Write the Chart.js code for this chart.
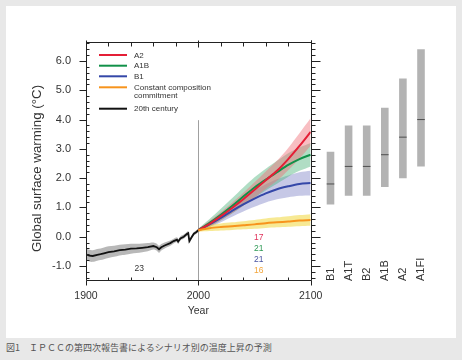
<!DOCTYPE html>
<html><head><meta charset="utf-8">
<script src="https://cdn.jsdelivr.net/npm/chart.js@4.4.1/dist/chart.umd.min.js"></script>
<style>
html,body{margin:0;padding:0;background:#e8e8e8;}
#wrap{position:relative;width:462px;height:360px;background:#e8e8e8;overflow:hidden;}
#panel{position:absolute;left:6px;top:6px;width:450px;height:332px;background:#fff;}
#c1{position:absolute;left:0;top:0;}
#c2{position:absolute;left:310px;top:0;}
#cap{position:absolute;left:6px;top:341px;font-size:9px;line-height:14px;font-family:"Noto Sans CJK JP",sans-serif;color:#555;white-space:nowrap;}
</style></head>
<body>
<div id="wrap">
  <div id="panel"></div>
  <canvas id="c1" width="345" height="338"></canvas>
  <canvas id="c2" width="146" height="338"></canvas>
  <div id="cap">図1　ＩＰＣＣの第四次報告書によるシナリオ別の温度上昇の予測</div>
</div>
<script>
// ---- data ----
const years20  = [1900,1903,1906,1910,1913,1916,1920,1925,1930,1935,1940,1945,1950,1955,1960,1963,1965,1967,1970,1975,1978,1981,1982,1984,1987,1990,1991,1992,1994,1996,1998,2000];
const temp20   = [-0.60,-0.65,-0.66,-0.62,-0.60,-0.57,-0.53,-0.50,-0.46,-0.44,-0.41,-0.40,-0.38,-0.36,-0.32,-0.36,-0.43,-0.36,-0.30,-0.22,-0.15,-0.10,-0.17,-0.06,0.00,0.10,0.12,-0.15,-0.02,0.10,0.15,0.22];
const spread20 = [0.20,0.20,0.20,0.20,0.20,0.20,0.20,0.19,0.18,0.18,0.17,0.16,0.15,0.14,0.12,0.12,0.12,0.11,0.10,0.09,0.08,0.08,0.08,0.07,0.07,0.07,0.07,0.07,0.06,0.06,0.06,0.06];

const yearsProj = [2000,2010,2020,2030,2040,2050,2060,2070,2080,2090,2100];
const a2Mean    = [0.22,0.44,0.70,0.98,1.28,1.60,1.93,2.25,2.65,3.10,3.58];
const a2Spread  = [0.05,0.10,0.14,0.18,0.22,0.26,0.30,0.34,0.38,0.43,0.47];
const a1bMean   = [0.22,0.47,0.75,1.05,1.37,1.68,1.95,2.20,2.45,2.65,2.80];
const a1bSpread = [0.05,0.13,0.20,0.26,0.31,0.35,0.37,0.39,0.40,0.40,0.40];
const b1Mean    = [0.22,0.42,0.64,0.88,1.10,1.30,1.48,1.62,1.72,1.80,1.83];
const b1Spread  = [0.05,0.10,0.15,0.20,0.24,0.28,0.31,0.34,0.37,0.40,0.42];
const ccMean    = [0.22,0.29,0.33,0.36,0.39,0.42,0.46,0.49,0.52,0.55,0.57];
const ccSpread  = [0.05,0.10,0.12,0.13,0.14,0.15,0.16,0.17,0.18,0.19,0.20];

const scenarios = ['B1','A1T','B2','A1B','A2','A1FI'];
const rangeLow  = [1.1,1.4,1.4,1.7,2.0,2.4];
const rangeHigh = [2.9,3.8,3.8,4.4,5.4,6.4];
const bestEst   = [1.8,2.4,2.4,2.8,3.4,4.0];

const yTicks = [-1,0,1,2,3,4,5,6];
const xTicks = [1900,2000,2100];
const yMin = -1.48, yMax = 6.65;

const noteYears  = [1947.4, 2053.7, 2053.7, 2053.7, 2053.7];
const noteValues = [-1.09, -0.02, -0.41, -0.80, -1.16];
const noteTexts  = ['23','17','21','21','16'];

// ---- styles ----
const C = {
  red:'#e41f36', green:'#119149', blue:'#3447a8', orange:'#f7941d', black:'#111111',
  redBand:'rgba(240,110,120,0.45)', greenBand:'rgba(80,180,125,0.45)',
  blueBand:'rgba(120,125,195,0.42)', yellowBand:'rgba(240,215,60,0.55)', grayBand:'rgba(140,140,140,0.62)'
};
const FONT = '"Liberation Sans", Arial, sans-serif';

const pts = (xs, ys) => xs.map((x,i)=>({x, y: ys[i]}));
const plus = (m, s) => m.map((v,i)=>v+s[i]);
const minus = (m, s) => m.map((v,i)=>v-s[i]);

const ds = [];
function band(xs, mean, spread, color){
  ds.push({data: pts(xs, plus(mean,spread)), borderWidth:0, pointRadius:0, fill:false, tension:0.3});
  ds.push({data: pts(xs, minus(mean,spread)), borderWidth:0, pointRadius:0, fill:'-1', backgroundColor:color, tension:0.3});
}
function line(xs, ys, color, tension, w){
  ds.push({data: pts(xs, ys), borderColor:color, borderWidth:w, pointRadius:0, fill:false, tension});
}
band(years20, temp20, spread20, C.grayBand);
line(years20, temp20, C.black, 0, 1.8);
band(yearsProj, b1Mean, b1Spread, C.blueBand);
band(yearsProj, a1bMean, a1bSpread, C.greenBand);
band(yearsProj, a2Mean, a2Spread, C.redBand);
band(yearsProj, ccMean, ccSpread, C.yellowBand);
line(yearsProj, b1Mean, C.blue, 0.3, 2);
line(yearsProj, a1bMean, C.green, 0.3, 2);
line(yearsProj, a2Mean, C.red, 0.3, 2);
line(yearsProj, ccMean, C.orange, 0.3, 2);
ds.forEach((d,i)=>{ d.order = ds.length - i; });

const legendItems = [
  {text:['A2'], color:C.red},
  {text:['A1B'], color:C.green},
  {text:['B1'], color:C.blue},
  {text:['Constant composition','commitment'], color:C.orange},
  {text:['20th century'], color:C.black}
];
const noteColors = ['#333333', '#e0315a', '#2e9a55', '#4a55a0', '#f2a53a'];

const decor = {
  id:'decor',
  beforeDatasetsDraw(chart){
    const {ctx, chartArea:a, scales:{x,y}} = chart;
    ctx.save();
    ctx.strokeStyle = '#a0a0a0'; ctx.lineWidth = 1;
    const px = Math.round(x.getPixelForValue(2000)) + 0.5;
    ctx.beginPath(); ctx.moveTo(px, y.getPixelForValue(3.98)); ctx.lineTo(px, a.bottom); ctx.stroke();
    ctx.restore();
  },
  afterDatasetsDraw(chart){
    const {ctx, chartArea:a, scales:{x,y}} = chart;
    ctx.save();
    ctx.strokeStyle = '#222'; ctx.lineWidth = 1;
    const L = Math.round(a.left)+0.5, R = Math.round(a.right)+0.5, T = Math.round(a.top)+0.5, B = Math.round(a.bottom)+0.5;
    ctx.beginPath();
    ctx.moveTo(L, T); ctx.lineTo(R, T); ctx.moveTo(L, B); ctx.lineTo(R, B);
    ctx.moveTo(L, T); ctx.lineTo(L, B); ctx.moveTo(R, T-2); ctx.lineTo(R, B);
    // y ticks
    for (let k = -7; k <= 33; k++) {
      const v = k/5;
      if (v < yMin || v > yMax) continue;
      const py = Math.round(y.getPixelForValue(v)) + 0.5;
      const major = (k % 5 === 0);
      if (major) { ctx.moveTo(L-7, py); ctx.lineTo(L, py); ctx.moveTo(R, py); ctx.lineTo(R+9, py); }
      else { ctx.moveTo(L, py); ctx.lineTo(L+3, py); ctx.moveTo(R, py); ctx.lineTo(R+4, py); }
    }
    // x ticks
    for (let yr = 1900; yr <= 2100; yr += 20) {
      const px = Math.round(x.getPixelForValue(yr)) + 0.5;
      const major = (yr % 100 === 0);
      if (major) { ctx.moveTo(px, B); ctx.lineTo(px, B+5); ctx.moveTo(px, T-2); ctx.lineTo(px, T+5); }
      else { ctx.moveTo(px, B); ctx.lineTo(px, B-3); ctx.moveTo(px, T); ctx.lineTo(px, T+4); }
    }
    ctx.stroke();

    // legend
    ctx.font = '8px ' + FONT; ctx.textBaseline = 'middle'; ctx.textAlign = 'left';
    const rows = [13, 23.7, 34.3, 45.3, 66.7];
    legendItems.forEach((it, i) => {
      const yy = a.top + rows[i];
      ctx.strokeStyle = it.color; ctx.lineWidth = 2;
      ctx.beginPath(); ctx.moveTo(a.left+13, yy); ctx.lineTo(a.left+41, yy); ctx.stroke();
      ctx.fillStyle = '#333';
      it.text.forEach((t, j) => ctx.fillText(t, a.left+48, yy + 0.5 + j*7.8));
    });

    // model counts
    ctx.font = '8.5px ' + FONT; ctx.textAlign = 'center';
    noteTexts.forEach((t, i) => {
      ctx.fillStyle = noteColors[i];
      ctx.fillText(t, x.getPixelForValue(noteYears[i]), y.getPixelForValue(noteValues[i]));
    });

    // axis titles
    ctx.fillStyle = '#333';
    ctx.font = '10.5px ' + FONT; ctx.textAlign = 'center';
    ctx.fillText('Year', (a.left + a.right)/2, 311);
    ctx.save();
    ctx.translate(37.7, 168.5); ctx.rotate(-Math.PI/2);
    ctx.font = '13.3px ' + FONT;
    ctx.fillText('Global surface warming (°C)', 0, 0);
    ctx.restore();
    ctx.restore();
  }
};

new Chart(document.getElementById('c1'), {
  type: 'line',
  data: { datasets: ds },
  options: {
    responsive:false, animation:false, devicePixelRatio:1,
    layout: { padding: { top:42, left:0, right:34.3, bottom:0 } },
    plugins: { legend:{display:false}, tooltip:{enabled:false} },
    scales: {
      x: {
        type:'linear', min:1900, max:2100,
        afterBuildTicks: s => { s.ticks = xTicks.map(v=>({value:v})); },
        afterFit: s => { s.height = 58; },
        grid:{display:false, drawTicks:false, tickLength:0}, border:{display:false},
        ticks:{ padding:10, color:'#333', font:{family:FONT, size:10.5}, maxRotation:0, autoSkip:false,
                callback: v => String(v) }
      },
      y: {
        type:'linear', min:yMin, max:yMax,
        afterBuildTicks: s => { s.ticks = yTicks.map(v=>({value:v})); },
        afterFit: s => { s.width = 86; },
        grid:{display:false, drawTicks:false, tickLength:0}, border:{display:false},
        ticks:{ padding:15, color:'#333', font:{family:FONT, size:11}, callback: v => v.toFixed(1) }
      }
    }
  },
  plugins: [decor]
});

const barLabels = {
  id:'barLabels',
  afterDraw(chart){
    const {ctx, scales:{x}} = chart;
    ctx.save();
    ctx.fillStyle = '#333'; ctx.font = '11px ' + FONT;
    ctx.textAlign = 'left'; ctx.textBaseline = 'middle';
    scenarios.forEach((s, i) => {
      ctx.save();
      ctx.translate(x.getPixelForValue(i), 281);
      ctx.rotate(-Math.PI/2);
      ctx.fillText(s, 0, 0);
      ctx.restore();
    });
    ctx.restore();
  }
};

new Chart(document.getElementById('c2'), {
  type: 'bar',
  data: {
    labels: scenarios,
    datasets: [
      { type:'line', data: bestEst, showLine:false, pointStyle:'line', pointRadius:3.8,
        borderColor:'#4d4d4d', borderWidth:1, order:0 },
      { data: rangeLow.map((v,i)=>[v, rangeHigh[i]]), backgroundColor:'#b3b3b3',
        borderWidth:0, barPercentage:0.42, categoryPercentage:1, order:1 }
    ]
  },
  options: {
    responsive:false, animation:false, devicePixelRatio:1,
    layout: { padding: { top:42, bottom:58, left:11.45, right:25.95 } },
    plugins: { legend:{display:false}, tooltip:{enabled:false} },
    scales: {
      x: { display:false, offset:true },
      y: { display:false, min:yMin, max:yMax }
    }
  },
  plugins: [barLabels]
});
</script>
</body></html>
